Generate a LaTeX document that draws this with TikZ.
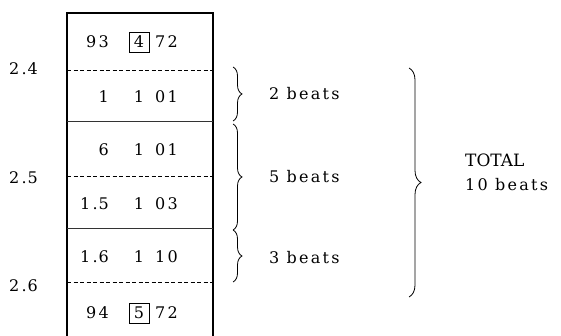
\documentclass[tikz,border=0pt]{standalone}
\usepackage{fontspec}
\newfontfamily\tw[LetterSpace=14]{DejaVu Serif}
\newfontfamily\tot{DejaVu Serif}
\usetikzlibrary{decorations.pathreplacing}
\begin{document}
\begin{tikzpicture}[x=1pt,y=1pt,
  txt/.style={font=\tw\fontsize{16}{18}\selectfont, inner sep=0pt},
  tot/.style={font=\tot\fontsize{17}{19}\selectfont, inner sep=0pt, anchor=west},
  frame/.style={line width=1.1pt},
  sep/.style={line width=0.5pt, black!80},
  dsep/.style={line width=0.6pt, dash pattern=on 4pt off 2.5pt},
  boxd/.style={draw, line width=0.8pt, minimum width=20pt, minimum height=20pt, inner sep=0pt, font=\tot\fontsize{16}{18}\selectfont},
  br/.style={decorate, decoration={brace, amplitude=#1}, line width=0.8pt}
]
\useasboundingbox (0,0) rectangle (561,-336);

% frame
\coordinate (tl) at (67,-13);
\coordinate (tr) at (213,-13);
\coordinate (bl) at (67,-336);
\coordinate (br) at (213,-336);
\draw[frame] (bl) -- (tl) -- (tr) -- (br);

% separators
\coordinate (l1) at (67,-70);  \coordinate (r1) at (213,-70);
\coordinate (l2) at (67,-121); \coordinate (r2) at (213,-121);
\coordinate (l3) at (67,-176); \coordinate (r3) at (213,-176);
\coordinate (l4) at (67,-228); \coordinate (r4) at (213,-228);
\coordinate (l5) at (67,-282); \coordinate (r5) at (213,-282);
\draw[dsep] (l1) -- (r1);
\draw[sep] (l2) -- (r2);
\draw[dsep] (l3) -- (r3);
\draw[sep] (l4) -- (r4);
\draw[dsep] (l5) -- (r5);

% left labels
\node[txt, anchor=west] (s24) at (9,-69) {2.\kern1pt 4};
\node[txt, anchor=west] (s25) at (9,-178) {2.\kern1pt 5};
\node[txt, anchor=west] (s26) at (9,-286) {2.\kern1pt 6};

% rows
\node[txt, anchor=east] (a1) at (109,-42) {93};
\node[boxd] (b1) at (139,-42) {4};
\node[txt, anchor=west] (c1) at (155,-42) {72};

\node[txt, anchor=east] (a2) at (109,-97) {1};
\node[txt] (b2) at (139,-97) {1};
\node[txt, anchor=west] (c2) at (155,-97) {01};

\node[txt, anchor=east] (a3) at (109,-150) {6};
\node[txt] (b3) at (139,-150) {1};
\node[txt, anchor=west] (c3) at (155,-150) {01};

\node[txt, anchor=east] (a4) at (109,-204) {1.\kern1pt 5};
\node[txt] (b4) at (139,-204) {1};
\node[txt, anchor=west] (c4) at (155,-204) {03};

\node[txt, anchor=east] (a5) at (109,-257) {1.\kern1pt 6};
\node[txt] (b5) at (139,-257) {1};
\node[txt, anchor=west] (c5) at (155,-257) {10};

\node[txt, anchor=east] (a6) at (109,-313) {94};
\node[boxd] (b6) at (139,-313) {5};
\node[txt, anchor=west] (c6) at (155,-313) {72};

% small braces
\coordinate (p1) at (233,-67);
\coordinate (p2) at (233,-121);
\coordinate (p3) at (233,-124);
\coordinate (p4) at (233,-230);
\coordinate (p5) at (233,-282);
\draw[br=9pt] (p1) -- (p2);
\draw[br=9pt] (p3) -- (p4);
\draw[br=9pt] (p4) -- (p5);

\node[txt, anchor=west] (t2) at (269,-94) {2 beats};
\node[txt, anchor=west] (t5) at (269,-177) {5 beats};
\node[txt, anchor=west] (t3) at (269,-258) {3 beats};

% big brace
\coordinate (q1) at (409,-68);
\coordinate (q2) at (409,-297);
\draw[br=12pt] (q1) -- (q2);

\node[tot] (tt) at (465,-160) {TOTAL};
\node[txt, anchor=west] (t10) at (465,-185) {10 beats};
\end{tikzpicture}
\end{document}
